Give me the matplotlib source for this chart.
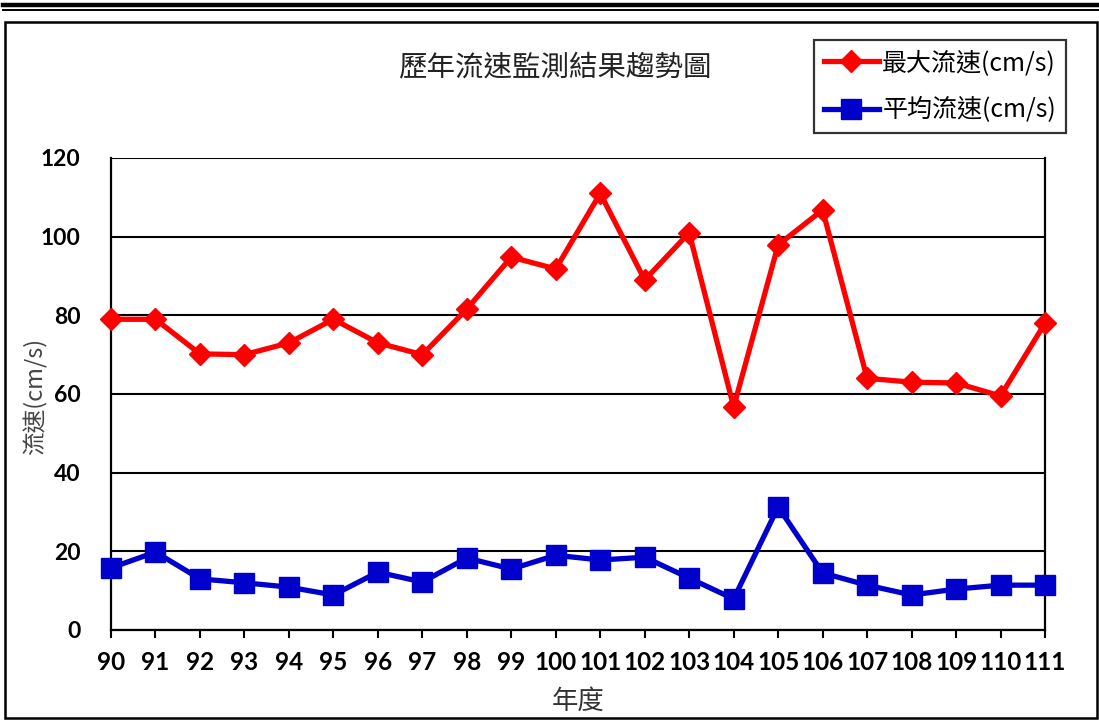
import matplotlib.pyplot as plt
from matplotlib.lines import Line2D
from matplotlib.patches import Rectangle

years = list(range(90, 112))
max_speed = [79, 79, 70.2, 70, 73, 79, 73, 70, 81.6, 94.8, 91.8, 111,
             89, 101, 56.7, 97.9, 106.8, 64, 63, 62.8, 59.5, 78]
avg_speed = [15.8, 19.8, 13, 12, 10.9, 8.9, 14.7, 12.2, 18.3, 15.5, 19,
             17.8, 18.5, 13.2, 7.9, 31.3, 14.5, 11.4, 8.9, 10.4, 11.4, 11.4]
y_ticks = [0, 20, 40, 60, 80, 100, 120]

cjk = ['Noto Sans CJK TC', 'DejaVu Sans']
num_font = ['Lato', 'DejaVu Sans']

fig = plt.figure(figsize=(10.99, 7.2), dpi=100)

# page decoration: double rule on top and the chart frame
fig.add_artist(Line2D([3 / 1099, 1], [1 - 5.3 / 720] * 2, color='black', lw=3.2))
fig.add_artist(Line2D([3 / 1099, 1], [1 - 10 / 720] * 2, color='black', lw=1.4))
fig.add_artist(Rectangle((5 / 1099, 2 / 720), 1092 / 1099, 696 / 720,
                         fill=False, edgecolor='black', lw=1.8))

ax = fig.add_axes([111 / 1099, 90 / 720, 934 / 1099, 472 / 720])
ax.plot(years, max_speed, color='#ff0000', lw=3.8, marker='D', markersize=11.5,
        label='最大流速(cm/s)', clip_on=False, zorder=3)
ax.plot(years, avg_speed, color='#0000cc', lw=3.8, marker='s', markersize=14,
        label='平均流速(cm/s)', clip_on=False, zorder=3)

ax.set_xlim(90, 111)
ax.set_ylim(0, 120)
ax.set_xticks(years)
ax.set_xticklabels([str(y) for y in years], family=num_font, fontweight='bold', fontsize=17.5)
ax.set_yticks(y_ticks)
ax.set_yticklabels([str(v) for v in y_ticks], family=num_font, fontweight='bold', fontsize=16.5)
ax.tick_params(axis='x', direction='out', length=6, width=1.5, pad=9, colors='black')
ax.tick_params(axis='y', length=0, pad=22)
ax.grid(axis='y', color='black', lw=1.5)
ax.set_axisbelow(True)
for side in ['left', 'bottom', 'right']:
    ax.spines[side].set_linewidth(1.6)
ax.spines['top'].set_visible(False)

ax.set_xlabel('年度', family=cjk, fontsize=19, color='#333333', labelpad=10)
ax.set_ylabel('流速(cm/s)', family=cjk, fontsize=17, color='#444444')
ax.yaxis.set_label_coords(-0.068, 0.494)

fig.text(555 / 1099, 1 - 67 / 720, '歷年流速監測結果趨勢圖', family=cjk, fontsize=20.5,
         color='#222222', ha='center', va='center')

leg = fig.legend(loc='upper right', bbox_to_anchor=(1066 / 1099, 1 - 40 / 720),
                 prop={'family': cjk, 'size': 18}, frameon=True, fancybox=False,
                 edgecolor='black', handlelength=2.2, borderpad=0.4,
                 labelspacing=0.85, handletextpad=0.15, borderaxespad=0)
leg.get_frame().set_linewidth(1.6)

fig.savefig('out.png', dpi=100)
